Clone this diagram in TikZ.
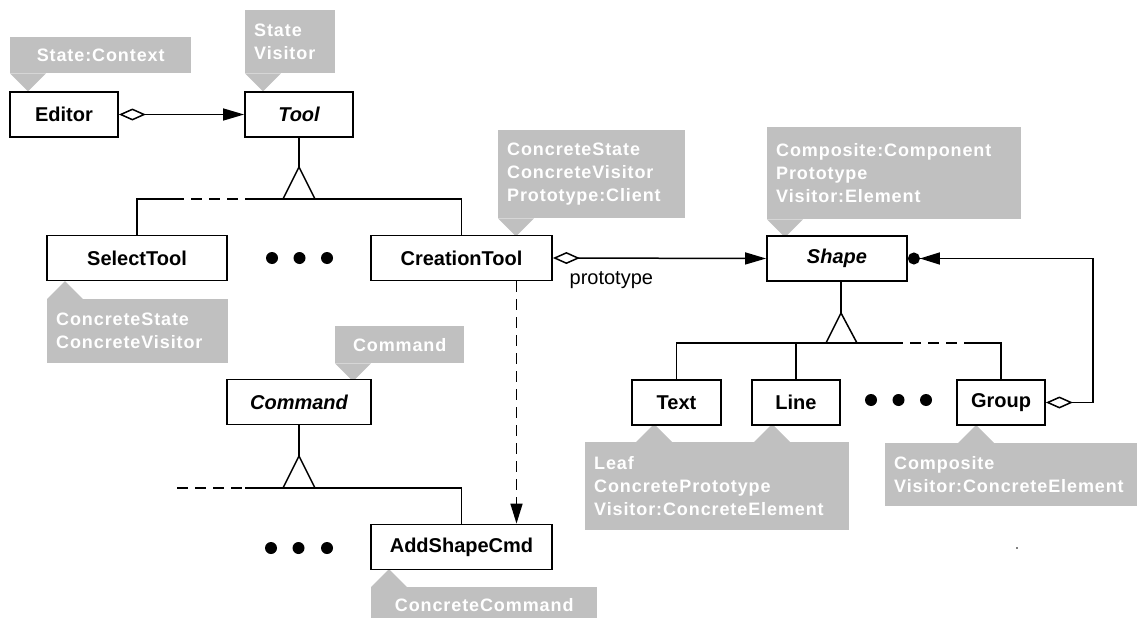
\documentclass[tikz,border=0pt]{standalone}
\usepackage{fontspec}
\newfontfamily\labelfamily{Liberation Sans}
\newfontfamily\notefamily{Liberation Sans}[LetterSpace=5]
\definecolor{notegray}{RGB}{192,192,192}
\usetikzlibrary{arrows.meta}

\tikzset{
  box/.style={draw, line width=1.8pt, fill=white, inner sep=0pt, minimum height=45pt,
    font=\labelfamily\bfseries\fontsize{20}{24}\selectfont},
  abstract/.style={box, font=\labelfamily\bfseries\itshape\fontsize{20}{24}\selectfont},
  note/.style={fill=notegray, text=white, anchor=north west, inner xsep=9pt, inner ysep=0pt,
    align=left, font=\notefamily\bfseries\fontsize{18}{23}\selectfont},
  link/.style={line width=1.5pt},
  gap/.style={link, dash pattern=on 11pt off 7pt},
  agg/.style={link, {Diamond[open,length=27pt,width=12pt]}-{Triangle[length=21pt,width=12pt]}},
  compose/.style={link, {Diamond[open,length=27pt,width=12pt]}-{Triangle[length=20pt,width=12pt]Circle[length=12pt]}},
  dots/.style={fill=black}
}

\begin{document}
\begin{tikzpicture}[x=1pt, y=-1pt]
    \useasboundingbox (0,0) rectangle (1138,618);

    % Pattern notes (grey callouts)
    \node[note, align=center, text width=163pt, minimum height=36pt] (editornote) at (10,37) {State:Context};
    \node[note, text width=72pt, minimum height=63pt] (toolnote) at (245,10) {State\\Visitor};
    \node[note, text width=169pt, minimum height=88pt] (creationnote) at (498,130)
        {ConcreteState\\ConcreteVisitor\\Prototype:Client};
    \node[note, text width=236pt, minimum height=92pt] (shapenote) at (767,127)
        {Composite:Component\\Prototype\\Visitor:Element};
    \node[note, text width=163pt, minimum height=64pt] (selectnote) at (47,299) {ConcreteState\\ConcreteVisitor};
    \node[note, align=center, text width=111pt, minimum height=37pt] (commandnote) at (335,326) {Command};
    \node[note, align=center, text width=208pt, minimum height=36pt] (addnote) at (371,587) {ConcreteCommand};
    \node[note, text width=246pt, minimum height=88pt] (leafnote) at (585,442)
        {Leaf\\ConcretePrototype\\Visitor:ConcreteElement};
    \node[note, text width=234pt, minimum height=63pt] (groupnote) at (885,443) {Composite\\Visitor:ConcreteElement};

    % Note pointers
    \fill[notegray] (editornote.south west) -- ++(18,18) -- ++(18,-18) -- cycle;
    \fill[notegray] (toolnote.south west) -- ++(18,18) -- ++(18,-18) -- cycle;
    \fill[notegray] (creationnote.south west) -- ++(18,18) -- ++(18,-18) -- cycle;
    \fill[notegray] (shapenote.south west) -- ++(18,18) -- ++(18,-18) -- cycle;
    \fill[notegray] (commandnote.south west) -- ++(18,18) -- ++(18,-18) -- cycle;
    \fill[notegray] (selectnote.north west) -- ++(18,-18) -- ++(18,18) -- cycle;
    \fill[notegray] (addnote.north west) -- ++(18,-18) -- ++(18,18) -- cycle;
    \fill[notegray] (leafnote.north west) ++(51,0) -- ++(18,-18) -- ++(18,18) -- cycle;
    \fill[notegray] (leafnote.north west) ++(169,0) -- ++(18,-18) -- ++(18,18) -- cycle;
    \fill[notegray] (groupnote.north west) ++(73,0) -- ++(18,-18) -- ++(18,18) -- cycle;

    % Classes
    \node[box, minimum width=108pt] (Editor) at (64,114.5) {Editor};
    \node[abstract, minimum width=108pt] (Tool) at (299,114.5) {Tool};
    \node[box, minimum width=180pt] (SelectTool) at (137,258) {SelectTool};
    \node[box, minimum width=181pt] (CreationTool) at (461.5,258) {CreationTool};
    \node[abstract, minimum width=140pt] (Shape) at (837,258.5) {Shape};
    \node[box, minimum width=89pt] (Text) at (676.5,402.5) {Text};
    \node[box, minimum width=88pt] (Line) at (796,402.5) {Line};
    \node[box, minimum width=88pt] (Group) at (1001,402.5) {Group};
    \node[abstract, minimum width=144pt] (Command) at (299,402) {Command};
    \node[box, minimum width=181pt] (AddShapeCmd) at (461.5,547) {AddShapeCmd};

    % Tool hierarchy
    \coordinate (tooltop) at (299,167);
    \draw[link] (Tool.south) -- (tooltop);
    \draw[link] (tooltop) -- (283,199) -- (315,199) -- cycle;
    \draw[link] (SelectTool.north) |- (173,199);
    \draw[gap] (173,199) -- (245,199);
    \draw[link] (245,199) -| (CreationTool.north);

    % Shape hierarchy
    \coordinate (shapetop) at (841,313);
    \draw[link] (shapetop |- Shape.south) -- (shapetop);
    \draw[link] (shapetop) -- (826,343) -- (857,343) -- cycle;
    \draw[link] (Text.north) |- (892,343);
    \draw[link] (Line.north) -- (Line.north |- 0,343);
    \draw[gap] (892,343) -- (965,343);
    \draw[link] (965,343) -| (Group.north);

    % Command hierarchy
    \coordinate (cmdtop) at (299,456);
    \draw[link] (Command.south) -- (cmdtop);
    \draw[link] (cmdtop) -- (283,488) -- (315,488) -- cycle;
    \draw[gap] (177,488) -- (245,488);
    \draw[link] (245,488) -| (AddShapeCmd.north);

    % Associations
    \draw[agg] (Editor.east) -- (Tool.west);
    \draw[agg] (CreationTool.east) -- (Shape.west)
        node[pos=0, anchor=base west, xshift=16pt, yshift=-26pt, inner sep=0pt,
             font=\labelfamily\fontsize{20}{24}\selectfont] {prototype};
    \draw[compose] (Group.east) -- ++(47,0) |- (Shape.east);
    \draw[link, dash pattern=on 11pt off 7pt, -{Triangle[length=20pt,width=12pt]}]
        ([xshift=55pt]CreationTool.south) -- ([xshift=55pt]AddShapeCmd.north);

    % Elision dots
    \fill[dots] (272,258) circle[radius=6pt] (299.5,258) circle[radius=6pt] (327,258) circle[radius=6pt];
    \fill[dots] (871,400) circle[radius=6pt] (898.5,400) circle[radius=6pt] (926,400) circle[radius=6pt];
    \fill[dots] (271,548) circle[radius=6pt] (298.5,548) circle[radius=6pt] (327,548) circle[radius=6pt];
    \fill (1017,548) circle[radius=0.9pt];
\end{tikzpicture}
\end{document}
